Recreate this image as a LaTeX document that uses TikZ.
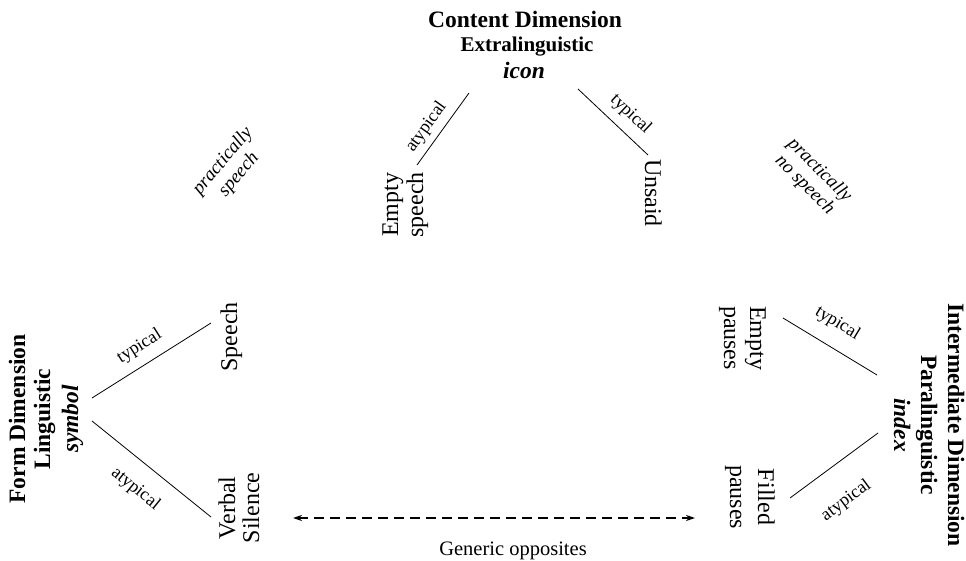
\documentclass[tikz,border=0pt]{standalone}
\usepackage{fontspec}
\setmainfont{Liberation Serif}
\usetikzlibrary{arrows.meta}
\begin{document}
\begin{tikzpicture}[x=1pt,y=1pt,
  head/.style={font=\fontsize{23.5}{25}\selectfont\bfseries, inner sep=0pt, anchor=base},
  headit/.style={font=\fontsize{23.5}{25}\selectfont\bfseries\itshape, inner sep=0pt, anchor=base},
  term/.style={font=\fontsize{24}{26}\selectfont, inner sep=0pt, anchor=base},
  lab/.style={font=\fontsize{18}{20}\selectfont, inner sep=0pt, sloped},
  note/.style={font=\fontsize{19}{21}\selectfont\itshape, inner sep=0pt, align=center},
  conn/.style={line width=0.8pt},
  opp/.style={line width=1.8pt, dash pattern=on 10pt off 6pt, {Stealth[length=9pt,width=6pt]}-{Stealth[length=9pt,width=6pt]}}
]
\useasboundingbox (0,0) rectangle (966,560);
% Content dimension
\node[head] (c1) at (525,532) {Content Dimension};
\node[head, font=\fontsize{21}{23}\selectfont\bfseries] (c2) at (527,508) {Extralinguistic};
\node[headit] (c3) at (524,481) {icon};
% Form dimension
\node[head, rotate=90] (f1) at (25,141) {Form Dimension};
\node[head, rotate=90] (f2) at (50,141) {Linguistic};
\node[headit, rotate=90] (f3) at (78,141) {symbol};
% Intermediate dimension
\node[head, rotate=-90] (i1) at (948,135) {Intermediate Dimension};
\node[head, rotate=-90] (i2) at (921,135) {Paralinguistic};
\node[headit, rotate=-90] (i3) at (894,135) {index};
% terms
\node[term, rotate=90] (speech) at (237,223) {Speech};
\node[term, rotate=90] (verbal) at (235,52) {Verbal};
\node[term, rotate=90] (silence) at (259,52) {Silence};
\node[term, rotate=90] (empty) at (398,355) {Empty};
\node[term, rotate=90] (espeech) at (423,355) {speech};
\node[term, rotate=-90] (unsaid) at (645,367) {Unsaid};
\node[term, rotate=-90] (emptyp) at (750,222) {Empty};
\node[term, rotate=-90] (pauses1) at (724,222) {pauses};
\node[term, rotate=-90] (filled) at (758,63) {Filled};
\node[term, rotate=-90] (pauses2) at (730,63) {pauses};
% notes
\node[note, rotate=50] (ps) at (231,392) {practically\\speech};
\node[note, rotate=-45] (pns) at (812,382) {practically\\no speech};
% connector end points
\coordinate (tla) at (417,395); \coordinate (tlb) at (469,467);
\coordinate (tra) at (578,471); \coordinate (trb) at (648,405);
\coordinate (lta) at (92,162);  \coordinate (ltb) at (211,237);
\coordinate (laa) at (92,139);  \coordinate (lab) at (211,43);
\coordinate (rta) at (783,242); \coordinate (rtb) at (877,185);
\coordinate (raa) at (790,62);  \coordinate (rab) at (878,127);
\coordinate (oa) at (293,42);   \coordinate (ob) at (695,42);
% connectors
\draw[conn] (tla) -- node[lab, pos=0.41, above=6pt] {atypical} (tlb);
\draw[conn] (tra) -- node[lab, pos=0.58, above=9pt] {typical} (trb);
\draw[conn] (lta) -- node[lab, pos=0.48, above=9.5pt] {typical} (ltb);
\draw[conn] (laa) -- node[lab, pos=0.5, below=17pt] {atypical} (lab);
\draw[conn] (rta) -- node[lab, pos=0.45, above=15pt] {typical} (rtb);
\draw[conn] (raa) -- node[lab, pos=0.4, below=27pt] {atypical} (rab);
\draw[opp] (oa) -- (ob);
\node[font=\fontsize{20.5}{22}\selectfont, inner sep=0pt, anchor=base] (gen) at (513,5) {Generic opposites};
\end{tikzpicture}
\end{document}
